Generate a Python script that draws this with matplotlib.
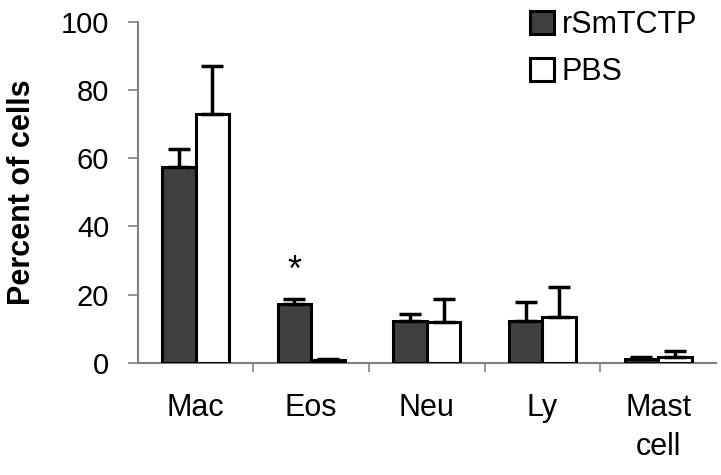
import matplotlib
matplotlib.use("Agg")
import matplotlib.pyplot as plt
import numpy as np

categories = ["Mac", "Eos", "Neu", "Ly", "Mast\ncell"]
rsm_values = [57.5, 17.3, 12.3, 12.3, 1.2]
rsm_err = [5.3, 1.4, 2.0, 5.6, 0.5]
pbs_values = [73.0, 0.9, 12.0, 13.5, 1.8]
pbs_err = [14.0, 0.3, 6.7, 8.8, 1.7]
series_names = ["rSmTCTP", "PBS"]
yticks = [0, 20, 40, 60, 80, 100]

plt.rcParams['font.family'] = ['Liberation Sans', 'DejaVu Sans']

fig = plt.figure(figsize=(7.21, 4.75), dpi=100)
ax = fig.add_axes([0.191, 0.236, 0.802, 0.718])

x = np.arange(len(categories))
w = 0.29
ekw = dict(elinewidth=2.5, capthick=2.5, ecolor='black')
ax.bar(x - w/2, rsm_values, w, yerr=[np.zeros(len(x)), rsm_err], capsize=8,
       color='#404040', edgecolor='black', linewidth=2.2, error_kw=ekw,
       label=series_names[0], zorder=3)
ax.bar(x + w/2, pbs_values, w, yerr=[np.zeros(len(x)), pbs_err], capsize=8,
       color='white', edgecolor='black', linewidth=2.2, error_kw=ekw,
       label=series_names[1], zorder=3)

ax.text(x[1] - w/2, 26.7, "*", ha='center', va='center', fontsize=26)

ax.set_xlim(-0.5, len(categories) - 0.5)
ax.set_ylim(0, 100)
ax.set_yticks(yticks)
ax.tick_params(axis='y', labelsize=21, length=7.5, width=1.2, color='#808080', pad=13)
ax.set_xticks(x)
ax.set_xticklabels(categories, fontsize=22, linespacing=1.35)
ax.tick_params(axis='x', length=0, pad=22)
ax.set_xticks(np.arange(0.5, len(categories) - 1, 1.0), minor=True)
ax.tick_params(axis='x', which='minor', length=6.5, width=1.2, color='#808080')

for s in ['top', 'right']:
    ax.spines[s].set_visible(False)
for s in ['left', 'bottom']:
    ax.spines[s].set_color('#808080')
    ax.spines[s].set_linewidth(1.5)

ax.set_ylabel("Percent of cells", fontsize=22, fontweight='bold')
ax.yaxis.set_label_coords(-0.174, 0.5)

leg = ax.legend(loc='upper left', bbox_to_anchor=(0.678, 1.034), frameon=False,
                fontsize=22, handlelength=0.8, handleheight=0.8, handletextpad=0.25,
                labelspacing=0.55, borderaxespad=0, borderpad=0)

fig.savefig("out.png", dpi=100)
